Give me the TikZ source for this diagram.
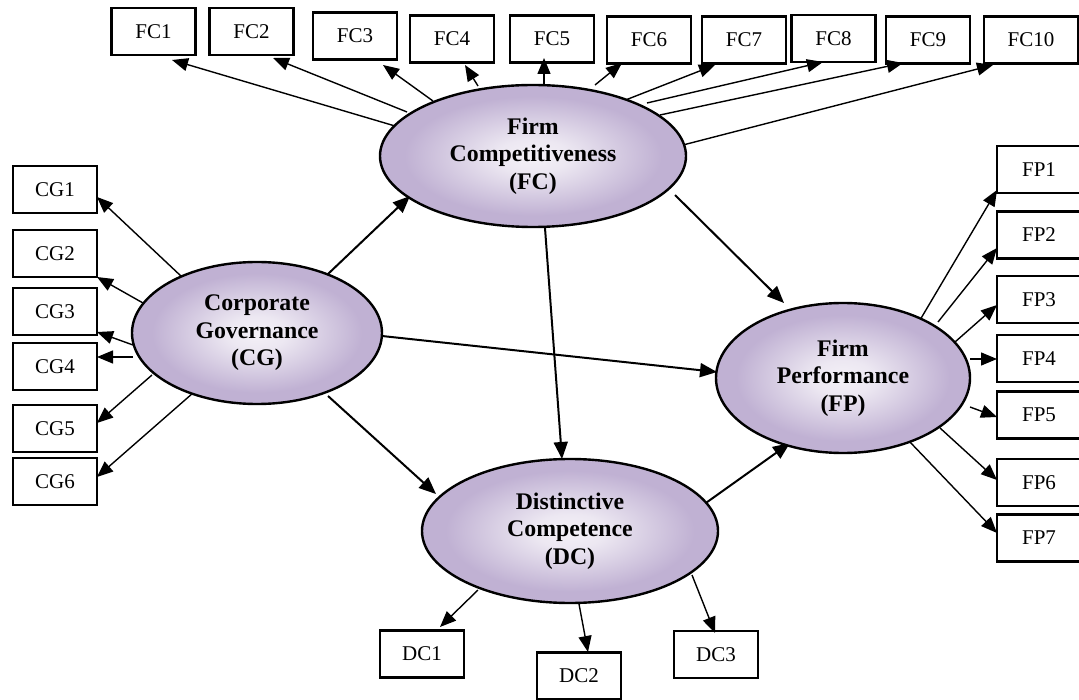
\documentclass[tikz,border=0pt]{standalone}
\usepackage{fontspec}
\setmainfont{Liberation Serif}
\usetikzlibrary{shapes.geometric,arrows.meta}

\definecolor{lavin}{HTML}{F4F1F7}
\definecolor{lavout}{HTML}{C0B1D3}
\pgfdeclareradialshading{lavender}{\pgfpoint{0bp}{0bp}}{%
  color(0bp)=(lavin); color(6bp)=(lavin!85!lavout);
  color(21bp)=(lavout); color(50bp)=(lavout)}

\tikzset{
  latent/.style={ellipse, draw=black, line width=2.4pt, inner sep=0pt,
    shading=lavender, align=center,
    font=\bfseries\fontsize{23.8}{27.5}\selectfont},
  itembox/.style={draw=black, line width=2.5pt, fill=white, inner sep=0pt,
    minimum width=84pt, minimum height=47pt,
    font=\fontsize{21}{24}\selectfont},
  loadarrow/.style={line width=1.4pt, -{Triangle[length=16pt,width=13pt]}},
  structarrow/.style={line width=2pt, -{Triangle[length=17pt,width=14pt]}},
}

\begin{document}
\begin{tikzpicture}[x=1pt,y=-1pt]
\useasboundingbox (0,0) rectangle (1079,700);

% ---- indicator boxes ----
\node[itembox] (fc1)  at (153.5,31.5) {FC1};
\node[itembox] (fc2)  at (251.5,31.5) {FC2};
\node[itembox] (fc3)  at (355,36) {FC3};
\node[itembox] (fc4)  at (452,39) {FC4};
\node[itembox] (fc5)  at (552,39) {FC5};
\node[itembox] (fc6)  at (649,40) {FC6};
\node[itembox] (fc7)  at (744,40) {FC7};
\node[itembox] (fc8)  at (833.5,38.5) {FC8};
\node[itembox] (fc9)  at (928,40) {FC9};
\node[itembox, minimum width=94pt] (fc10) at (1031,40) {FC10};

\node[itembox] (cg1) at (55,189.5) {CG1};
\node[itembox] (cg2) at (55,253.5) {CG2};
\node[itembox] (cg3) at (55,311.5) {CG3};
\node[itembox] (cg4) at (55,366.5) {CG4};
\node[itembox] (cg5) at (55,428.5) {CG5};
\node[itembox] (cg6) at (55,481.5) {CG6};

\node[itembox] (fp1) at (1039,169.5) {FP1};
\node[itembox] (fp2) at (1039,235) {FP2};
\node[itembox] (fp3) at (1039,299.5) {FP3};
\node[itembox] (fp4) at (1039,358.5) {FP4};
\node[itembox] (fp5) at (1039,415) {FP5};
\node[itembox] (fp6) at (1039,482.5) {FP6};
\node[itembox] (fp7) at (1039,538) {FP7};

\node[itembox] (dc1) at (422,654) {DC1};
\node[itembox] (dc2) at (579,676) {DC2};
\node[itembox] (dc3) at (716,654.5) {DC3};

% ---- loading end points (on the constructs / by the boxes) ----
\coordinate (fc1a) at (395,126);  \coordinate (fc1b) at (172,60);
\coordinate (fc2a) at (407,112);  \coordinate (fc2b) at (273,58);
\coordinate (fc3a) at (433,101);  \coordinate (fc3b) at (383,65);
\coordinate (fc4a) at (478,86);   \coordinate (fc4b) at (465,65);
\coordinate (fc5a) at (544,85);   \coordinate (fc5b) at (544,58);
\coordinate (fc6a) at (595,85);   \coordinate (fc6b) at (622,63);
\coordinate (fc7a) at (623,101);  \coordinate (fc7b) at (715,65);
\coordinate (fc8a) at (647,103);  \coordinate (fc8b) at (823,62);
\coordinate (fc9a) at (660,115);  \coordinate (fc9b) at (903,63);
\coordinate (fc10a) at (683,145); \coordinate (fc10b) at (993,65);
\coordinate (cg1a) at (182,277);  \coordinate (cg1b) at (97,197);
\coordinate (cg2a) at (143,303);  \coordinate (cg2b) at (97,277);
\coordinate (cg3a) at (133,345);  \coordinate (cg3b) at (97,332);
\coordinate (cg4a) at (133,357);  \coordinate (cg4b) at (97,357);
\coordinate (cg5a) at (152,375);  \coordinate (cg5b) at (97,423);
\coordinate (cg6a) at (193,393);  \coordinate (cg6b) at (97,477);
\coordinate (fp1a) at (920,320);  \coordinate (fp1b) at (997,190);
\coordinate (fp2a) at (938,322);  \coordinate (fp2b) at (997,248);
\coordinate (fp3a) at (955,342);  \coordinate (fp3b) at (997,305);
\coordinate (fp4a) at (970,359);  \coordinate (fp4b) at (997,359);
\coordinate (fp5a) at (970,407);  \coordinate (fp5b) at (997,417);
\coordinate (fp6a) at (940,428);  \coordinate (fp6b) at (997,480);
\coordinate (fp7a) at (908,440);  \coordinate (fp7b) at (997,533);
\coordinate (dc1a) at (478,590);  \coordinate (dc1b) at (440,627);
\coordinate (dc2a) at (579,604);  \coordinate (dc2b) at (588,652);
\coordinate (dc3a) at (692,575);  \coordinate (dc3b) at (715,633);

\foreach \n in {fc1,fc2,fc3,fc4,fc5,fc6,fc7,fc8,fc9,fc10,
                cg1,cg2,cg3,cg4,cg5,cg6,
                fp1,fp2,fp3,fp4,fp5,fp6,fp7,
                dc1,dc2,dc3}
  \draw[loadarrow] (\n a) -- (\n b);

% ---- structural paths ----
\coordinate (cgfca) at (328,274); \coordinate (cgfcb) at (410,196);
\coordinate (fcdca) at (545,228); \coordinate (fcdcb) at (562,459);
\coordinate (cgfpa) at (382,336); \coordinate (cgfpb) at (717,372);
\coordinate (cgdca) at (328,396); \coordinate (cgdcb) at (436,494);
\coordinate (fcfpa) at (675,195); \coordinate (fcfpb) at (784,303);
\coordinate (dcfpa) at (703,505); \coordinate (dcfpb) at (790,443);
\foreach \n in {cgfc,fcdc,cgfp,cgdc,fcfp,dcfp}
  \draw[structarrow] (\n a) -- (\n b);

% ---- latent constructs ----
\node[latent, minimum width=306pt, minimum height=142pt] (fc) at (533,156)
  {Firm\\Competitiveness\\(FC)};
\node[latent, minimum width=250pt, minimum height=142pt] (cg) at (257,333)
  {Corporate\\Governance\\(CG)};
\node[latent, minimum width=254pt, minimum height=150pt] (fp) at (843,378)
  {Firm\\Performance\\(FP)};
\node[latent, minimum width=296pt, minimum height=144pt] (dc) at (570,531)
  {Distinctive\\Competence\\(DC)};
\end{tikzpicture}
\end{document}
